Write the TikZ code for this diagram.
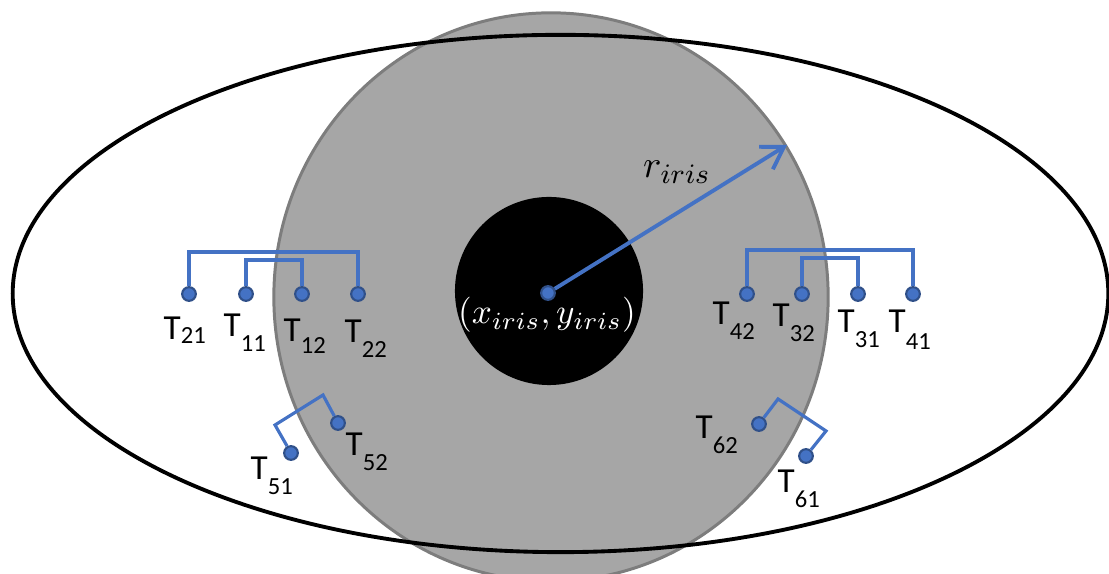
\documentclass[tikz,border=0pt]{standalone}
\usepackage{fontspec}
\usepackage{tikz}
\usetikzlibrary{arrows.meta}
\newfontfamily\calfont{Carlito}
\definecolor{colLink}{HTML}{4472C4}
\colorlet{colLinkDark}{colLink!70!black}
\definecolor{colIris}{HTML}{A6A6A6}
\colorlet{colIrisEdge}{colIris!75!black}
\newcommand{\tsub}[2][4pt]{T\raisebox{-#1}{\fontsize{7}{8}\selectfont #2}}

\begin{document}
\begin{tikzpicture}[x=0.01cm, y=-0.01cm, >={Straight Barb[length=6pt,width=7.5pt]},
    tdot/.style={circle, fill=colLink, draw=colLinkDark, line width=0.6pt, inner sep=0pt, minimum size=3.9pt},
    tlink/.style={colLink, line width=0.9pt},
    tlab/.style={font=\calfont\fontsize{10}{12}\selectfont, inner sep=0pt, anchor=base west}]
        \useasboundingbox (0,0) rectangle (1109,574);
        \clip (0,0) rectangle (1109,574);

        % Iris, ojo y pupila
        \filldraw[fill=colIris, draw=colIrisEdge, line width=0.85pt] (551,297) ellipse [x radius=2.77cm, y radius=2.84cm];
        \draw[line width=1.1pt] (560.5,293.5) ellipse [x radius=5.475cm, y radius=2.585cm];
        \fill (549,291) circle [radius=0.94cm];

        % Centro y radio
        \node[tdot] (c) at (548,293) {};
        \coordinate (rtip) at (787,145);
        \draw[->, colLink, line width=1.1pt] (c) -- (rtip);
        \node[font=\fontsize{11}{13}\selectfont] (rlab) at (677,172) {$r_{iris}$};
        \node[white, font=\fontsize{10.2}{12}\selectfont] (clab) at (547,315) {$(x_{iris},y_{iris})$};

        % Pares izquierdos
        \node[tdot] (t21) at (189,294) {};
        \node[tdot] (t11) at (246,294) {};
        \node[tdot] (t12) at (302,294) {};
        \node[tdot] (t22) at (358,294) {};
        \draw[tlink] (t21) -- ++(0,-42) -| (t22);
        \draw[tlink] (t11) -- ++(0,-34) -| (t12);
        \node[tlab] (l21) at (163,340) {\tsub[1pt]{21}};
        \node[tlab] (l11) at (223,337) {\tsub{11}};
        \node[tlab] (l12) at (283,342) {\tsub[3.2pt]{12}};
        \node[tlab] (l22) at (344,343) {\tsub{22}};

        % Pares derechos
        \node[tdot] (t42) at (747,294) {};
        \node[tdot] (t32) at (802,294) {};
        \node[tdot] (t31) at (858,294) {};
        \node[tdot] (t41) at (913,294) {};
        \draw[tlink] (t42) -- ++(0,-44) -| (t41);
        \draw[tlink] (t32) -- ++(0,-36) -| (t31);
        \node[tlab] (l42) at (712,325) {\tsub{42}};
        \node[tlab] (l32) at (772,327) {\tsub{32}};
        \node[tlab] (l31) at (837,333) {\tsub{31}};
        \node[tlab] (l41) at (888,333) {\tsub[4.6pt]{41}};

        % Pares inferiores
        \node[tdot] (t51) at (291,453) {};
        \node[tdot] (t52) at (338,423) {};
        \draw[tlink] (t51) -- ++(-16,-28) -- ++(48,-30) -- (t52);
        \node[tlab] (l51) at (250,480) {\tsub{51}};
        \node[tlab] (l52) at (345,456) {\tsub{52}};

        \node[tdot] (t62) at (759,424) {};
        \node[tdot] (t61) at (806,456) {};
        \draw[tlink] (t62) -- ++(19,-25) -- ++(48,32) -- (t61);
        \node[tlab] (l62) at (695,439) {\tsub{62}};
        \node[tlab] (l61) at (777,493) {\tsub{61}};
    \end{tikzpicture}
\end{document}
